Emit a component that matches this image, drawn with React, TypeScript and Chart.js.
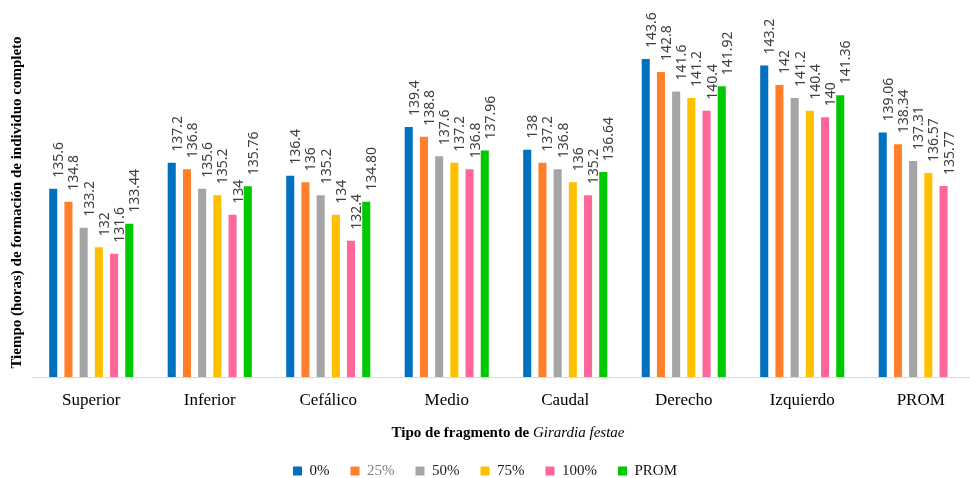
import React, { useEffect, useRef } from "react";
import { Chart, registerables } from "chart.js";

Chart.register(...registerables);

const categories = ["Superior", "Inferior", "Cefálico", "Medio", "Caudal", "Derecho", "Izquierdo", "PROM"];
const seriesNames = ["0%", "25%", "50%", "75%", "100%", "PROM"];
const s0 = [135.6, 137.2, 136.4, 139.4, 138, 143.6, 143.2, 139.06];
const s25 = [134.8, 136.8, 136, 138.8, 137.2, 142.8, 142, 138.34];
const s50 = [133.2, 135.6, 135.2, 137.6, 136.8, 141.6, 141.2, 137.31];
const s75 = [132, 135.2, 134, 137.2, 136, 141.2, 140.4, 136.57];
const s100 = [131.6, 134, 132.4, 136.8, 135.2, 140.4, 140, 135.77];
const sProm = [133.44, 135.76, 134.8, 137.96, 136.64, 141.92, 141.36, null];
const seriesColors = ["#0070C0", "#FF7F2A", "#A5A5A5", "#FFC000", "#FF6699", "#00C800"];
const legendTextColors = ["#111111", "#808080", "#222222", "#222222", "#222222", "#111111"];
const yTitle = "Tiempo (horas) de formación de individuo completo";
const xTitleBold = "Tipo de fragmento de ";
const xTitleItalic = "Girardia festae";

function fmt(v: number, di: number, ci: number): string {
  return di === 5 || ci === 7 ? v.toFixed(2) : String(v);
}

const labelsPlugin = {
  id: "barLabels",
  beforeDraw(chart: any) {
    const lg = chart.legend;
    if (lg && !lg._shifted) {
      lg.left -= 21;
      lg.right -= 21;
      lg._shifted = true;
    }
  },
  afterDatasetsDraw(chart: any) {
    const ctx = chart.ctx;
    ctx.save();
    ctx.font = '14px "Noto Sans"';
    ctx.fillStyle = "#404040";
    chart.data.datasets.forEach((ds: any, di: number) => {
      const meta = chart.getDatasetMeta(di);
      meta.data.forEach((el: any, i: number) => {
        const v = ds.data[i];
        if (v == null) return;
        ctx.save();
        ctx.translate(el.x, el.y - 11);
        ctx.rotate(-Math.PI / 2);
        ctx.textAlign = "left";
        ctx.textBaseline = "alphabetic";
        ctx.fillText(fmt(v, di, i), 0, 10);
        ctx.restore();
      });
    });
    ctx.restore();

    // Y title
    ctx.save();
    ctx.translate(17, 202.5);
    ctx.rotate(-Math.PI / 2);
    ctx.font = 'bold 15px "Liberation Serif"';
    ctx.fillStyle = "#000";
    ctx.textAlign = "center";
    ctx.textBaseline = "middle";
    ctx.fillText(yTitle, 0, 0);
    ctx.restore();

    // X title
    ctx.save();
    ctx.fillStyle = "#000";
    ctx.textBaseline = "alphabetic";
    ctx.textAlign = "left";
    ctx.font = 'bold 15px "Liberation Serif"';
    const w1 = ctx.measureText(xTitleBold).width;
    ctx.font = 'italic 15px "Liberation Serif"';
    const w2 = ctx.measureText(xTitleItalic).width;
    const x0 = 508 - (w1 + w2) / 2;
    ctx.font = 'bold 15px "Liberation Serif"';
    ctx.fillText(xTitleBold, x0, 437);
    ctx.font = 'italic 15px "Liberation Serif"';
    ctx.fillText(xTitleItalic, x0 + w1, 437);
    ctx.restore();
  },
};

export default function App() {
  const ref = useRef<HTMLCanvasElement>(null);
  useEffect(() => {
    const data = [s0, s25, s50, s75, s100, sProm];
    const chart = new Chart(ref.current!, {
      type: "bar",
      data: {
        labels: categories,
        datasets: seriesNames.map((name, i) => ({
          label: name,
          data: data[i],
          backgroundColor: seriesColors[i],
          borderWidth: 0,
          categoryPercentage: 0.77,
          barPercentage: 0.53,
        })),
      },
      options: {
        responsive: false,
        animation: false,
        layout: { padding: { left: 32, right: 10, top: 20, bottom: -10.5 } },
        plugins: {
          tooltip: { enabled: false },
          legend: {
            position: "bottom",
            labels: {
              boxWidth: 9,
              boxHeight: 9,
              padding: 21,
              font: { family: '"Liberation Serif"', size: 15 },
              color: "#111",
              generateLabels: (c: any) =>
                Chart.defaults.plugins.legend.labels.generateLabels(c).map((it: any, i: number) => ({
                  ...it,
                  fontColor: legendTextColors[i],
                  lineWidth: 0,
                })),
            },
          },
        },
        scales: {
          x: {
            grid: { display: false, drawTicks: false },
            border: { display: true, color: "#d9d9d9", width: 1 },
            ticks: { font: { family: '"Liberation Serif"', size: 17 }, color: "#000", padding: 13 },
            afterFit: (s: any) => {
              s.height = 65.5;
            },
          },
          y: { display: false, min: 124, max: 146 },
        },
      },
      plugins: [labelsPlugin],
    } as any);
    return () => chart.destroy();
  }, []);
  return (
    <div style={{ position: "fixed", left: 0, top: 0, width: 970, height: 478, overflow: "hidden", background: "#fff" }}>
      <canvas ref={ref} width={990} height={478} />
    </div>
  );
}
